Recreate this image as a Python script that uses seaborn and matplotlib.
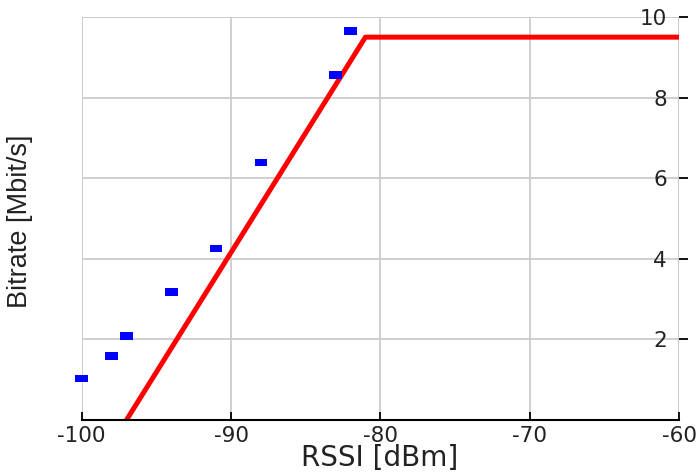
import matplotlib
matplotlib.use("Agg")
import matplotlib.pyplot as plt
from matplotlib.path import Path
import seaborn as sns

# Measured throughput versus received signal strength
rssi_meas = [-100, -98, -97, -94, -91, -88, -83, -82]
bitrate_meas = [1.03, 1.59, 2.08, 3.17, 4.26, 6.39, 8.56, 9.65]

# Piecewise-linear rate model
rssi_model = [-97, -81, -60]
bitrate_model = [0.0, 9.5, 9.5]

x_ticks = [-100, -90, -80, -70, -60]
y_ticks = [2, 4, 6, 8, 10]

sns.set_theme(style="white")
plt.rcParams["font.family"] = ["DejaVu Sans"]

fig = plt.figure(figsize=(6.99, 4.74), dpi=100)
ax = fig.add_axes([81.7 / 699, 54 / 474, (679 - 81.7) / 699, (420 - 17) / 474])

sns.lineplot(x=rssi_model, y=bitrate_model, ax=ax, color="#ff0000",
             linewidth=3.6, zorder=3)

rect = Path([(-1, -0.6), (1, -0.6), (1, 0.6), (-1, 0.6), (-1, -0.6)],
            [Path.MOVETO, Path.LINETO, Path.LINETO, Path.LINETO, Path.CLOSEPOLY])
sns.scatterplot(x=rssi_meas, y=bitrate_meas, ax=ax, marker=rect, s=83,
                color="#0000ff", edgecolor="none", linewidth=0, zorder=4,
                clip_on=False)

ax.set_xlim(-100, -60)
ax.set_ylim(0, 10)
ax.set_xticks(x_ticks)
ax.set_xticklabels([str(v) for v in x_ticks])
ax.set_yticks(y_ticks)
ax.set_yticklabels([str(v) for v in y_ticks])

ax.grid(True, color="#cccccc", linewidth=1.3)
ax.set_axisbelow(True)

for side in ["left", "top", "right"]:
    ax.spines[side].set_visible(False)
ax.spines["bottom"].set_color("black")
ax.spines["bottom"].set_linewidth(1.5)
ax.spines["bottom"].set_zorder(5)

# light frame on the remaining sides
ax.axvline(-100, color="#cccccc", linewidth=1.3, zorder=0.5)
ax.axvline(-60, color="#cccccc", linewidth=1.3, zorder=0.5)
ax.axhline(10, color="#cccccc", linewidth=1.3, zorder=0.5)

ax.tick_params(axis="x", direction="in", length=6, width=1.3, color="black",
               labelsize=15.5, pad=4, bottom=True, labelcolor="#222222")
ax.yaxis.tick_right()
ax.tick_params(axis="y", direction="out", length=6.5, width=1.3, color="black",
               labelsize=15.5, pad=-15.1, right=True, left=False,
               labelcolor="#222222")
for lab in ax.get_yticklabels():
    lab.set_horizontalalignment("right")

ax.set_xlabel("RSSI [dBm]", fontsize=20, color="#222222")
ax.xaxis.set_label_coords(0.498, -0.06)
ax.set_ylabel("Bitrate [Mbit/s]", fontsize=19.5, color="#222222",
              family=["Liberation Sans", "DejaVu Sans"])
ax.yaxis.set_label_position("left")
ax.yaxis.set_label_coords(-0.0815, 0.494)

fig.savefig("out.png", dpi=100, facecolor="white")
